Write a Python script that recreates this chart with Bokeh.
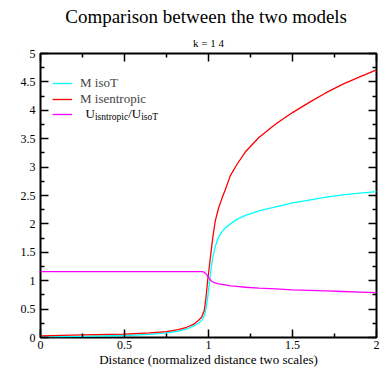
from bokeh.plotting import figure
from bokeh.models import (LinearAxis, FixedTicker, Label, Legend, LegendItem, Range1d, Title)
from bokeh.embed import file_html
from bokeh.resources import INLINE

# ---- data ----
distance = [0.0, 0.25, 0.5, 0.65, 0.75, 0.82, 0.87, 0.91, 0.94, 0.96, 0.975, 0.985,
            0.995, 1.005, 1.015, 1.025, 1.04, 1.06, 1.08, 1.1, 1.13, 1.17, 1.22,
            1.3, 1.4, 1.5, 1.6, 1.7, 1.8, 1.9, 2.0]
m_isot = [0.01, 0.02, 0.035, 0.055, 0.08, 0.11, 0.15, 0.2, 0.25, 0.3, 0.38, 0.5,
          0.7, 0.95, 1.2, 1.4, 1.6, 1.77, 1.86, 1.93, 2.0, 2.08, 2.15,
          2.23, 2.3, 2.37, 2.42, 2.47, 2.51, 2.54, 2.57]
m_isentropic = [0.03, 0.045, 0.06, 0.08, 0.105, 0.14, 0.18, 0.23, 0.3, 0.36, 0.48, 0.7,
                1.0, 1.25, 1.5, 1.75, 2.05, 2.28, 2.45, 2.6, 2.85, 3.05, 3.27,
                3.52, 3.76, 3.96, 4.14, 4.31, 4.46, 4.59, 4.71]
u_ratio = [1.16, 1.16, 1.16, 1.16, 1.16, 1.16, 1.16, 1.16, 1.16, 1.16, 1.15, 1.12,
           1.08, 1.04, 1.0, 0.98, 0.96, 0.945, 0.935, 0.925, 0.91, 0.9, 0.885,
           0.87, 0.855, 0.84, 0.83, 0.82, 0.81, 0.8, 0.79]

x_ticks = [0, 0.5, 1, 1.5, 2]
x_tick_labels = ["0", "0.5", "1", "1.5", "2"]
x_minor = [0.25, 0.75, 1.25, 1.75]
y_ticks = [0, 0.5, 1, 1.5, 2, 2.5, 3, 3.5, 4, 4.5, 5]
y_tick_labels = ["0", "0.5", "1", "1.5", "2", "2.5", "3", "3.5", "4", "4.5", "5"]
y_minor = [0.25, 0.75, 1.25, 1.75, 2.25, 2.75, 3.25, 3.75, 4.25, 4.75]

title_text = "Comparison between the two  models"
subtitle_text = "k = 1 4"
xlabel_text = "Distance (normalized distance two scales)"

SERIF = "Liberation Serif"

p = figure(width=388, height=369, x_range=Range1d(0, 2), y_range=Range1d(0, 5),
           title=None, output_backend="svg", toolbar_location=None,
           min_border_left=40, min_border_right=12, min_border_top=53, min_border_bottom=32)
p.grid.visible = False
p.outline_line_color = "black"
p.outline_line_width = 2
p.background_fill_color = "white"
p.border_fill_color = "white"

def style_axis(ax, ticks, minor, labels, show_labels):
    ax.ticker = FixedTicker(ticks=ticks, minor_ticks=minor)
    if show_labels:
        ax.major_label_overrides = {t: l for t, l in zip(ticks, labels)}
    else:
        ax.major_label_overrides = {t: "" for t in ticks}
    ax.axis_line_color = None
    ax.major_tick_in = 8
    ax.major_tick_out = 0
    ax.minor_tick_in = 4
    ax.minor_tick_out = 0
    ax.major_tick_line_color = "black"
    ax.minor_tick_line_color = "black"
    ax.major_tick_line_width = 1.5
    ax.minor_tick_line_width = 1.5
    ax.major_label_text_font = SERIF
    ax.major_label_text_font_size = "12px"
    ax.major_label_text_color = "black"
    ax.major_label_standoff = 5 if show_labels else 0

style_axis(p.xaxis[0], x_ticks, x_minor, x_tick_labels, True)
style_axis(p.yaxis[0], y_ticks, y_minor, y_tick_labels, True)
p.xaxis[0].major_label_standoff = 3
p.xaxis[0].axis_label = xlabel_text
p.xaxis[0].axis_label_text_font = SERIF
p.xaxis[0].axis_label_text_font_size = "13px"
p.xaxis[0].axis_label_text_font_style = "normal"
p.xaxis[0].axis_label_text_color = "black"
p.xaxis[0].axis_label_standoff = 0

top_ax = LinearAxis()
right_ax = LinearAxis()
style_axis(top_ax, x_ticks, x_minor, x_tick_labels, False)
style_axis(right_ax, y_ticks, y_minor, y_tick_labels, False)
p.add_layout(top_ax, "above")
p.add_layout(right_ax, "right")

p.add_layout(Title(text=subtitle_text, align="center", text_font=SERIF,
                   text_font_size="11px", text_font_style="normal",
                   text_color="black", standoff=10), "above")
p.add_layout(Title(text=title_text, align="center", text_font=SERIF,
                   text_font_size="19px", text_font_style="normal",
                   text_color="black", standoff=6), "above")

r1 = p.line(distance, m_isot, line_color="#00ffff", line_width=1.3)
r2 = p.line(distance, m_isentropic, line_color="#ff0000", line_width=1.3)
r3 = p.line(distance, u_ratio, line_color="#ff00ff", line_width=1.3)

legend = Legend(items=[LegendItem(label="M isoT", renderers=[r1]),
                       LegendItem(label="M isentropic", renderers=[r2]),
                       LegendItem(label=" ", renderers=[r3])],
                location=(12, 216), border_line_color=None, background_fill_alpha=0,
                label_text_font=SERIF, label_text_font_size="13px",
                glyph_width=20, glyph_height=14, label_height=14,
                label_standoff=8, spacing=0, padding=5, margin=0)
p.add_layout(legend)

# legend text with subscripts for the third entry
def add_label(text, xo, yo, size):
    p.add_layout(Label(x=0, y=0, x_offset=xo, y_offset=yo, text=text,
                       text_font=SERIF, text_font_size=size, text_color="black",
                       text_baseline="alphabetic", text_align="left"))

add_label("U", 45, 224, "13px")
add_label("isntropic", 54.4, 221, "9.5px")
add_label("/U", 87.7, 224, "13px")
add_label("isoT", 100.7, 221, "9.5px")

open("out.html", "w").write(file_html(p, INLINE))
